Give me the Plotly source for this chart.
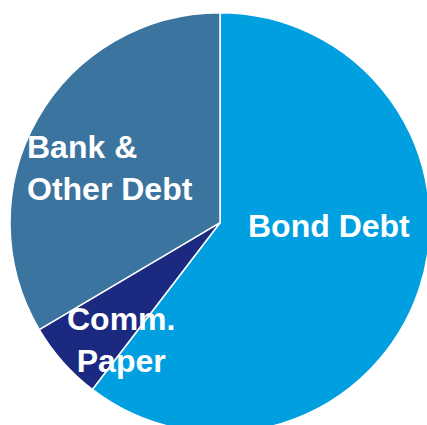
import plotly.graph_objects as go

# Data
labels = ["Bond Debt", "Comm. Paper", "Bank & Other Debt"]
shares = [60.4, 6.1, 33.5]
display_text = ["Bond Debt", "Comm.<br>Paper", "Bank &<br>Other Debt"]
colors = ["#00A0E0", "#1B2A80", "#3C74A0"]

W, H = 440, 445  # figure slightly larger than window so pie is cropped like reference

fig = go.Figure(go.Pie(
    labels=labels,
    values=shares,
    sort=False,
    direction="clockwise",
    rotation=0,
    textinfo="none",
    hoverinfo="label+percent",
    marker=dict(colors=colors, line=dict(color="white", width=1.5)),
    domain=dict(x=[10 / W, 430 / W], y=[1 - 432.7 / H, 1 - 12.7 / H]),
    showlegend=False,
))

# label placements (pixel coordinates from top-left)
placements = [
    dict(x=329, y=226, xanchor="center", align="center"),
    dict(x=121, y=340, xanchor="center", align="center"),
    dict(x=25, y=168, xanchor="left", align="left"),
]
for txt, p in zip(display_text, placements):
    fig.add_annotation(
        text=txt, xref="paper", yref="paper",
        x=p["x"] / W, y=1 - p["y"] / H,
        xanchor=p["xanchor"], yanchor="middle", align=p["align"],
        showarrow=False,
        font=dict(family="Arial, Liberation Sans, sans-serif", size=32, color="white", weight="bold"),
    )

fig.update_layout(
    width=W, height=H,
    margin=dict(l=0, r=0, t=0, b=0, pad=0),
    paper_bgcolor="white", plot_bgcolor="white",
)

fig.write_html(
    "out.html",
    config={"displayModeBar": False},
    post_script="document.documentElement.style.overflow='hidden';document.body.style.overflow='hidden';document.body.style.margin='0';",
)
